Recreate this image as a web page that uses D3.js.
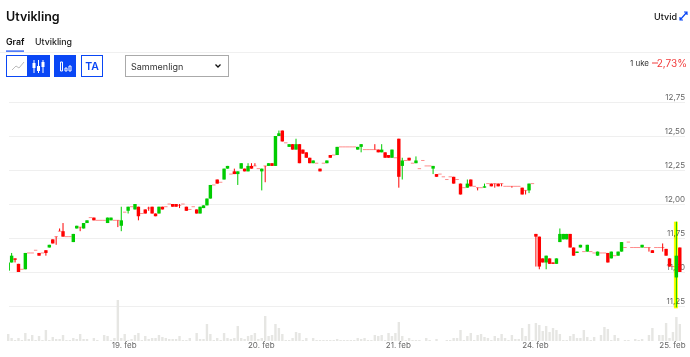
<!DOCTYPE html>
<html>
<head>
<meta charset="utf-8">
<script src="https://cdnjs.cloudflare.com/ajax/libs/d3/7.8.5/d3.min.js"></script>
<style>
    body { margin: 0; background: #fff; }
    svg { display: block; font-family: Inter, "Noto Sans", sans-serif; }
</style>
</head>
<body>
<div id="graph"></div>
<script>
// candle values, one entry per 10 minute bar
const opens = [
    11.51,11.57,11.60,11.56,11.52,11.52,11.64,11.64,11.66,11.64,
    11.64,11.66,11.68,11.74,11.76,11.80,11.80,11.76,11.76,11.72,
    11.82,11.83,11.82,11.86,11.90,11.90,11.88,11.88,11.88,11.86,
    11.88,11.88,11.88,11.84,11.94,11.95,11.98,11.96,11.98,11.93,
    11.96,11.97,11.98,11.93,11.93,11.98,11.98,12.00,12.00,12.00,
    11.99,12.00,11.98,11.96,11.98,11.96,11.93,11.97,11.99,12.04,
    12.14,12.18,12.16,12.18,12.26,12.22,12.24,12.22,12.26,12.26,
    12.24,12.28,12.28,12.26,12.24,12.28,12.28,12.30,12.28,12.50,
    12.54,12.45,12.42,12.44,12.40,12.44,12.40,12.38,12.34,12.30,
    12.30,12.26,12.30,12.30,12.36,12.36,12.36,12.42,12.42,12.42,
    12.42,12.42,12.40,12.42,12.40,12.40,12.40,12.40,12.40,12.38,
    12.38,12.36,12.34,12.34,12.48,12.28,12.32,12.34,12.30,12.30,
    12.26,12.32,12.28,12.28,12.26,12.22,12.22,12.20,12.18,12.20,
    12.20,12.18,12.15,12.12,12.12,12.18,12.13,12.12,12.12,12.12,
    12.15,12.15,12.15,12.15,12.15,12.13,12.13,12.13,12.13,12.13,
    12.12,12.10,12.10,12.15,11.78,11.76,11.60,11.57,11.60,11.57,
    11.56,11.72,11.74,11.74,11.78,11.68,11.64,11.68,11.65,11.65,
    11.65,11.64,11.62,11.64,11.64,11.64,11.60,11.62,11.62,11.65,
    11.68,11.72,11.68,11.68,11.68,11.68,11.68,11.68,11.66,11.68,
    11.68,11.68,11.67,11.60,11.54,11.46,11.68];
const highs = [
    11.57,11.64,11.60,11.56,11.52,11.64,11.64,11.64,11.66,11.64,
    11.64,11.66,11.70,11.74,11.76,11.82,11.86,11.76,11.76,11.78,
    11.84,11.83,11.86,11.88,11.90,11.90,11.88,11.88,11.88,11.90,
    11.90,11.88,11.88,11.98,11.94,11.98,11.98,12.00,11.98,11.93,
    11.96,11.98,11.98,11.93,11.98,11.98,11.98,12.00,12.00,12.00,
    12.00,12.00,11.98,11.96,11.98,11.96,11.98,11.99,12.04,12.14,
    12.14,12.18,12.16,12.26,12.28,12.22,12.26,12.24,12.30,12.26,
    12.30,12.30,12.30,12.26,12.26,12.28,12.30,12.30,12.50,12.54,
    12.54,12.45,12.44,12.44,12.48,12.44,12.40,12.38,12.34,12.32,
    12.30,12.26,12.30,12.32,12.36,12.36,12.42,12.42,12.42,12.42,
    12.42,12.42,12.42,12.44,12.40,12.40,12.40,12.44,12.40,12.44,
    12.38,12.36,12.40,12.34,12.48,12.34,12.32,12.34,12.30,12.35,
    12.26,12.32,12.28,12.28,12.28,12.22,12.22,12.20,12.18,12.20,
    12.20,12.18,12.15,12.12,12.18,12.18,12.13,12.12,12.12,12.15,
    12.15,12.15,12.15,12.15,12.15,12.13,12.13,12.13,12.13,12.13,
    12.12,12.10,12.15,12.15,11.78,11.76,11.60,11.62,11.60,11.57,
    11.60,11.82,11.78,11.78,11.78,11.68,11.65,11.70,11.65,11.70,
    11.65,11.64,11.65,11.64,11.64,11.64,11.65,11.62,11.65,11.72,
    11.68,11.72,11.68,11.68,11.68,11.70,11.68,11.68,11.66,11.68,
    11.68,11.71,11.67,11.60,11.54,11.87,11.68];
const lows = [
    11.51,11.57,11.57,11.50,11.52,11.52,11.64,11.64,11.66,11.62,
    11.64,11.62,11.68,11.71,11.70,11.80,11.76,11.76,11.76,11.72,
    11.82,11.80,11.82,11.86,11.90,11.88,11.88,11.88,11.88,11.86,
    11.88,11.88,11.83,11.80,11.94,11.93,11.98,11.96,11.88,11.93,
    11.93,11.95,11.93,11.91,11.93,11.96,11.98,12.00,11.98,11.98,
    11.97,12.00,11.95,11.96,11.98,11.93,11.93,11.97,11.99,12.04,
    12.14,12.15,12.16,12.18,12.26,12.22,12.22,12.14,12.26,12.24,
    12.24,12.26,12.28,12.26,12.10,12.16,12.28,12.28,12.28,12.50,
    12.46,12.45,12.42,12.40,12.40,12.30,12.37,12.34,12.30,12.30,
    12.30,12.24,12.30,12.30,12.34,12.36,12.36,12.42,12.42,12.42,
    12.42,12.42,12.40,12.38,12.40,12.40,12.40,12.40,12.38,12.38,
    12.34,12.34,12.34,12.34,12.12,12.18,12.32,12.32,12.30,12.30,
    12.26,12.32,12.28,12.28,12.22,12.20,12.22,12.20,12.18,12.20,
    12.15,12.18,12.07,12.12,12.12,12.13,12.13,12.10,12.12,12.12,
    12.15,12.13,12.12,12.13,12.13,12.13,12.13,12.12,12.13,12.13,
    12.07,12.07,12.08,12.15,11.54,11.52,11.57,11.52,11.56,11.56,
    11.56,11.72,11.74,11.74,11.68,11.62,11.64,11.68,11.65,11.65,
    11.65,11.64,11.62,11.64,11.64,11.57,11.60,11.62,11.62,11.65,
    11.68,11.72,11.68,11.68,11.68,11.68,11.68,11.65,11.64,11.68,
    11.68,11.65,11.62,11.54,11.54,11.24,11.50];
const closes = [
    11.57,11.62,11.59,11.50,11.52,11.64,11.64,11.64,11.66,11.62,
    11.64,11.64,11.70,11.71,11.76,11.80,11.76,11.76,11.76,11.78,
    11.84,11.83,11.86,11.88,11.90,11.88,11.88,11.88,11.88,11.90,
    11.90,11.88,11.88,11.88,11.94,11.98,11.98,12.00,11.91,11.93,
    11.93,11.97,11.93,11.91,11.98,11.96,11.98,12.00,11.98,11.98,
    11.99,12.00,11.95,11.96,11.98,11.93,11.98,11.99,12.04,12.14,
    12.14,12.15,12.16,12.26,12.28,12.22,12.22,12.24,12.30,12.24,
    12.28,12.26,12.28,12.26,12.26,12.28,12.30,12.28,12.50,12.52,
    12.46,12.45,12.44,12.40,12.44,12.30,12.37,12.34,12.30,12.32,
    12.30,12.24,12.30,12.32,12.34,12.36,12.42,12.42,12.42,12.42,
    12.42,12.42,12.42,12.44,12.40,12.40,12.40,12.40,12.38,12.40,
    12.34,12.34,12.40,12.34,12.20,12.32,12.32,12.32,12.30,12.32,
    12.26,12.32,12.28,12.28,12.28,12.20,12.22,12.20,12.18,12.20,
    12.15,12.18,12.07,12.12,12.15,12.13,12.13,12.12,12.12,12.13,
    12.15,12.13,12.15,12.13,12.15,12.13,12.13,12.13,12.13,12.13,
    12.07,12.10,12.15,12.15,11.76,11.54,11.57,11.62,11.56,11.56,
    11.60,11.78,11.78,11.78,11.68,11.62,11.65,11.70,11.65,11.70,
    11.65,11.64,11.65,11.64,11.64,11.57,11.65,11.62,11.65,11.72,
    11.68,11.72,11.68,11.68,11.68,11.70,11.68,11.68,11.64,11.68,
    11.68,11.68,11.62,11.54,11.54,11.62,11.50];
const volumes = [
    7,3,1,3,1,8,2,6,1,5,
    1,11,1,4,2,2,6,1,1,3,
    2,7,2,2,0,3,1,0,6,5,
    1,3,41,3,7,1,2,6,8,1,
    5,2,3,3,6,4,3,2,2,2,
    5,1,1,3,0,8,2,2,17,7,
    1,3,1,8,3,2,3,15,3,2,
    5,6,8,2,3,25,5,6,17,13,
    7,1,1,3,9,8,1,3,0,3,
    1,1,1,1,1,1,2,1,1,1,
    1,1,3,2,3,1,1,6,5,6,
    1,8,5,8,19,5,1,3,1,1,
    1,0,3,1,0,2,0,0,1,1,
    3,3,11,1,5,8,1,6,7,4,
    3,1,5,3,7,3,1,6,2,2,
    13,5,17,1,18,16,10,15,9,13,
    11,7,1,1,5,7,3,3,11,4,
    1,4,0,6,14,12,1,6,3,0,
    1,1,0,2,1,2,0,6,13,0,
    6,6,18,3,9,24,17];

// axis ticks
const priceTicks = [11.25, 11.5, 11.75, 12, 12.25, 12.5, 12.75];
const dayTicks = [34, 74, 114, 154, 194];
const dayLabels = ["19. feb", "20. feb", "21. feb", "24. feb", "25. feb"];

// the bar marked with the yellow pen
const markedBar = 195;

const width = 690, height = 357,
    blue = "#0a47f5", green = "#00cc00", red = "#ff0000";

const svg = d3.select("#graph")
    .append("svg")
    .attr("width", width)
    .attr("height", height);

// Scales
const x = d3.scaleLinear().domain([0, opens.length - 1]).range([8.2, 679.8]);
const y = d3.scaleLinear().domain([11.25, 12.75]).range([306, 102]);
const v = d3.scaleLinear().domain([0, 41]).range([341, 300]);

// ---- header ----
svg.append("text").attr("x", 6).attr("y", 21)
    .style("font-size", "12.5px").style("font-weight", 600).attr("fill", "#111").text("Utvikling");
svg.append("text").attr("x", 6).attr("y", 44.5)
    .style("font-size", "8.8px").style("font-weight", 600).attr("fill", "#111").text("Graf");
svg.append("text").attr("x", 35).attr("y", 44.5)
    .style("font-size", "8.8px").style("font-weight", 500).attr("fill", "#222").text("Utvikling");
svg.append("rect").attr("x", 6).attr("y", 50.5).attr("width", 18).attr("height", 1.2).attr("fill", blue);
svg.append("line").attr("x1", 0).attr("x2", width).attr("y1", 52.5).attr("y2", 52.5).attr("stroke", "#f0f0f0");

svg.append("text").attr("x", 677).attr("y", 20).attr("text-anchor", "end")
    .style("font-size", "9px").style("font-weight", 500).attr("fill", "#111").text("Utvid");
svg.append("path")
    .attr("d", "M680 20L687 12M684 12h3v3M680 17v3h3")
    .attr("fill", "none").attr("stroke", blue).attr("stroke-width", 1.2);

svg.append("text").attr("x", 649).attr("y", 66).attr("text-anchor", "end")
    .style("font-size", "8px").attr("fill", "#333").text("1 uke");
svg.append("rect").attr("x", 652).attr("y", 62.5).attr("width", 6).attr("height", 1).attr("fill", "#f23c3c");
svg.append("text").attr("x", 687).attr("y", 67).attr("text-anchor", "end")
    .style("font-size", "10px").attr("fill", "#f23c3c").text("2,73%");

// ---- toolbar ----
const bar = svg.append("g");
bar.append("rect").attr("x", 6.5).attr("y", 55.5).attr("width", 43).attr("height", 21)
    .attr("fill", "#fff").attr("stroke", blue);
bar.append("rect").attr("x", 27).attr("y", 55).attr("width", 23).attr("height", 22).attr("fill", blue);
bar.append("path").attr("d", "M12 70L16 66L19 68L24 62").attr("fill", "none").attr("stroke", "#bbb");
bar.append("path").attr("d", "M34 60V73M38.500 60V73M43 60V73").attr("stroke", "#fff").attr("fill", "none");
bar.selectAll("rect.tb").data([[32.5, 63], [37, 66], [41.5, 62]]).join("rect")
    .attr("class", "tb").attr("x", d => d[0]).attr("y", d => d[1]).attr("width", 3).attr("height", 5).attr("fill", "#fff");

bar.append("rect").attr("x", 54).attr("y", 55).attr("width", 22).attr("height", 22).attr("fill", blue);
bar.append("path").attr("d", "M60.500 71V62h2v9zM65 71v-3h2v3zM69 71v-5h2v5z")
    .attr("fill", "none").attr("stroke", "#fff");

bar.append("rect").attr("x", 81.500).attr("y", 55.500).attr("width", 21).attr("height", 21)
    .attr("fill", "#fff").attr("stroke", blue);
bar.append("text").attr("x", 92).attr("y", 70).attr("text-anchor", "middle")
    .style("font-size", "10.5px").style("font-weight", 600).attr("fill", blue).text("TA");

bar.append("rect").attr("x", 125.500).attr("y", 55.500).attr("width", 103).attr("height", 21)
    .attr("fill", "#fff").attr("stroke", "#aaa");
bar.append("text").attr("x", 131).attr("y", 70)
    .style("font-size", "9px").attr("fill", "#333").text("Sammenlign");
bar.append("path").attr("d", "M215.500 64.500L218 67L220.500 64.500")
    .attr("fill", "none").attr("stroke", "#111").attr("stroke-width", 1.3);

// ---- axes ----
const yAxis = d3.axisRight(y)
    .tickValues(priceTicks)
    .tickSize(676)
    .tickFormat(d => d3.format(".2f")(d).replace(".", ","));

svg.append("g")
    .attr("transform", "translate(9,0)")
    .call(yAxis)
    .call(g => g.select(".domain").remove())
    .call(g => g.selectAll(".tick line").attr("stroke", "#efefef"))
    .call(g => g.selectAll(".tick text")
        .attr("x", 676).attr("dy", -2.500).attr("text-anchor", "end")
        .style("font-family", "Inter, sans-serif").style("font-size", "8px").attr("fill", "#666")
        .attr("y", 0).attr("dominant-baseline", "auto"));

const xAxis = d3.axisBottom(x)
    .tickValues(dayTicks)
    .tickSize(0)
    .tickFormat((d, i) => dayLabels[i]);

svg.append("g")
    .attr("transform", "translate(-1,341)")
    .call(xAxis)
    .call(g => g.select(".domain").remove())
    .call(g => g.selectAll(".tick text")
        .attr("y", 1).attr("dy", "0.71em")
        .style("font-family", "Inter, sans-serif").style("font-size", "8px").attr("fill", "#666"));

// ---- plot ----
const bars = d3.range(opens.length);

// volume
svg.append("g")
    .selectAll("rect")
    .data(bars)
    .join("rect")
    .attr("x", i => x(i) - 1.2)
    .attr("width", 2.4)
    .attr("y", i => v(volumes[i]))
    .attr("height", i => v(0) - v(volumes[i]))
    .attr("fill", "#e6e6e3");

svg.append("clipPath").attr("id", "plot")
    .append("rect").attr("x", 9).attr("y", 90).attr("width", 680).attr("height", 260);

// yellow marker
svg.append("rect")
    .attr("x", x(markedBar) - 2.5)
    .attr("width", 4)
    .attr("y", y(highs[markedBar]))
    .attr("height", y(lows[markedBar]) - y(highs[markedBar]) + 1)
    .attr("fill", "#ffff00")
    .style("mix-blend-mode", "multiply");

const candles = svg.append("g").attr("clip-path", "url(#plot)");

// wicks
candles.selectAll("line")
    .data(bars)
    .join("line")
    .attr("x1", i => x(i))
    .attr("x2", i => x(i))
    .attr("y1", i => y(highs[i]))
    .attr("y2", i => y(lows[i]))
    .attr("stroke", i => closes[i] > opens[i] ? green : red);

// bodies, a flat bar still gets a thin dash
candles.selectAll("rect")
    .data(bars)
    .join("rect")
    .attr("x", i => x(i) - 1.7)
    .attr("width", 3.4)
    .attr("y", i => y(Math.max(opens[i], closes[i])) - (opens[i] === closes[i] ? 0.5 : 0))
    .attr("height", i => Math.max(1, Math.abs(y(opens[i]) - y(closes[i]))))
    .attr("fill", i => closes[i] > opens[i] ? green : red)
    .attr("fill-opacity", i => opens[i] === closes[i] ? 0.45 : 1);
</script>
</body>
</html>
